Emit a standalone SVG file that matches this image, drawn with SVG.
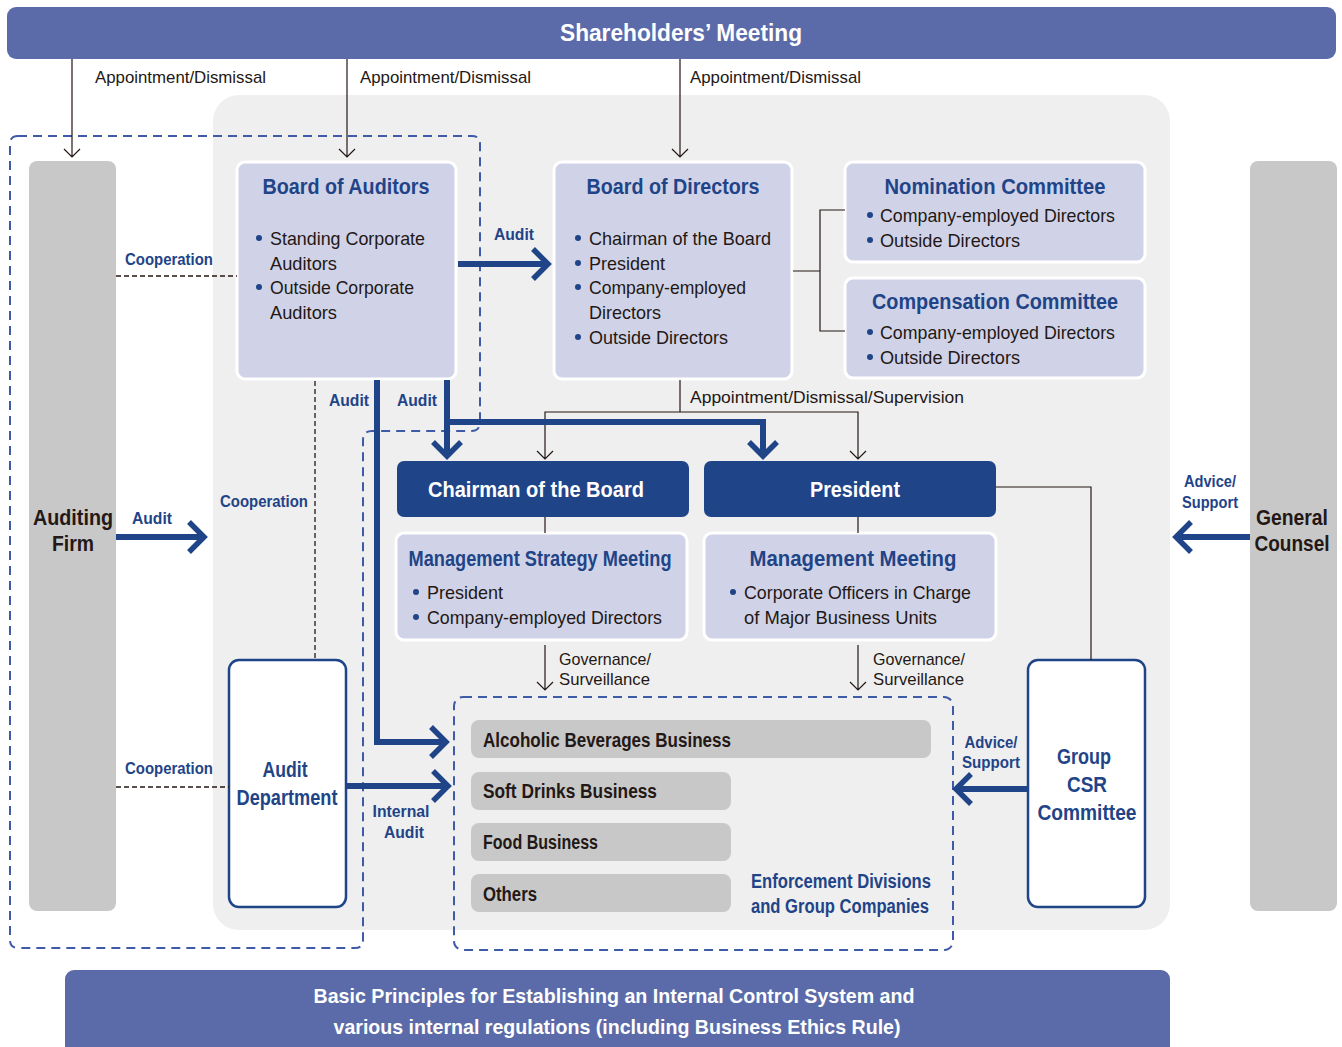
<svg xmlns="http://www.w3.org/2000/svg" width="1342" height="1047" viewBox="0 0 1342 1047">
<defs>
<style>
text{font-family:"Liberation Sans",Arial,sans-serif;}
.band{fill:#5b6ba9;}
.bandt{fill:#fff;font-weight:bold;font-size:24px;text-anchor:middle;}
.bandt2{fill:#fff;font-weight:bold;font-size:21px;text-anchor:middle;}
.bar{fill:#c8c8c8;}
.bart{fill:#231815;font-weight:bold;font-size:22px;text-anchor:middle;}
.box{fill:#d0d3e8;stroke:#fff;stroke-width:3;}
.title{fill:#1f4487;font-weight:bold;font-size:22px;text-anchor:middle;}
.item{fill:#231815;font-size:19px;}
.dot{fill:#1f4487;}
.dark{fill:#1f4487;}
.darkt{fill:#fff;font-weight:bold;font-size:22px;text-anchor:middle;}
.wbox{fill:#fff;stroke:#1f4487;stroke-width:2.5;}
.wt{fill:#1f4487;font-weight:bold;font-size:22px;text-anchor:middle;}
.lbl{fill:#231815;font-size:17px;}
.blbl{fill:#1f4487;font-weight:bold;font-size:17px;}
.blblc{fill:#1f4487;font-weight:bold;font-size:17px;text-anchor:middle;}
.thin{fill:none;stroke:#231815;stroke-width:1.2;}
.thick{fill:none;stroke:#1f4487;stroke-width:6;stroke-linejoin:miter;}
.head{fill:none;stroke:#1f4487;stroke-width:5.5;stroke-linejoin:miter;stroke-miterlimit:10;}
.dash{fill:none;stroke:#231815;stroke-width:1.3;stroke-dasharray:5 3;}
.bdash{fill:none;stroke:#3f5aa6;stroke-width:2;stroke-dasharray:9 6;}
.biz{fill:#c8c8c8;}
.bizt{fill:#231815;font-weight:bold;font-size:19.5px;}
.ent{fill:#1f4487;font-weight:bold;font-size:19.5px;}
</style>
</defs>

<rect x="213" y="95" width="957" height="835" rx="26" fill="#efefef"/>

<g id="dashed-groups">
<path class="bdash" d="M18,136 H472 Q480,136 480,144 V422 Q480,431 471,431 H372 Q363,431 363,440 V940 Q363,948 355,948 H18 Q10,948 10,940 V144 Q10,136 18,136 Z"/>
<rect class="bdash" x="454" y="697" width="499" height="253" rx="9"/>
</g>

<g id="shareholders">
<rect class="band" x="7" y="7" width="1329" height="52" rx="9"/>
<text class="bandt" x="681" y="41" textLength="242" lengthAdjust="spacingAndGlyphs">Shareholders’ Meeting</text>
</g>

<g id="principles">
<rect class="band" x="65" y="970" width="1105" height="90" rx="9"/>
<text class="bandt2" x="614" y="1003" textLength="601" lengthAdjust="spacingAndGlyphs">Basic Principles for Establishing an Internal Control System and</text>
<text class="bandt2" x="617" y="1034" textLength="567" lengthAdjust="spacingAndGlyphs">various internal regulations (including Business Ethics Rule)</text>
</g>

<g id="auditing-firm">
<rect class="bar" x="29" y="161" width="87" height="750" rx="8"/>
<text class="bart" x="73" y="525" textLength="80" lengthAdjust="spacingAndGlyphs">Auditing</text>
<text class="bart" x="73" y="551" textLength="42" lengthAdjust="spacingAndGlyphs">Firm</text>
</g>

<g id="general-counsel">
<rect class="bar" x="1250" y="161" width="87" height="750" rx="8"/>
<text class="bart" x="1292" y="525" textLength="72" lengthAdjust="spacingAndGlyphs">General</text>
<text class="bart" x="1292" y="551" textLength="75" lengthAdjust="spacingAndGlyphs">Counsel</text>
</g>

<g id="board-of-auditors">
<rect class="box" x="237" y="162" width="219" height="217" rx="8"/>
<text class="title" x="346" y="194" textLength="167" lengthAdjust="spacingAndGlyphs">Board of Auditors</text>
<circle class="dot" cx="259" cy="238" r="3"/>
<text class="item" x="270" y="245" textLength="155" lengthAdjust="spacingAndGlyphs">Standing Corporate</text>
<text class="item" x="270" y="270" textLength="67" lengthAdjust="spacingAndGlyphs">Auditors</text>
<circle class="dot" cx="259" cy="287" r="3"/>
<text class="item" x="270" y="294" textLength="144" lengthAdjust="spacingAndGlyphs">Outside Corporate</text>
<text class="item" x="270" y="319" textLength="67" lengthAdjust="spacingAndGlyphs">Auditors</text>
</g>

<g id="board-of-directors">
<rect class="box" x="554" y="162" width="238" height="217" rx="8"/>
<text class="title" x="673" y="194" textLength="173" lengthAdjust="spacingAndGlyphs">Board of Directors</text>
<circle class="dot" cx="578" cy="238" r="3"/>
<text class="item" x="589" y="245" textLength="182" lengthAdjust="spacingAndGlyphs">Chairman of the Board</text>
<circle class="dot" cx="578" cy="263" r="3"/>
<text class="item" x="589" y="270" textLength="76" lengthAdjust="spacingAndGlyphs">President</text>
<circle class="dot" cx="578" cy="287" r="3"/>
<text class="item" x="589" y="294" textLength="157" lengthAdjust="spacingAndGlyphs">Company-employed</text>
<text class="item" x="589" y="319" textLength="72" lengthAdjust="spacingAndGlyphs">Directors</text>
<circle class="dot" cx="578" cy="337" r="3"/>
<text class="item" x="589" y="344" textLength="139" lengthAdjust="spacingAndGlyphs">Outside Directors</text>
</g>

<g id="nomination-committee">
<rect class="box" x="845" y="162" width="300" height="100" rx="8"/>
<text class="title" x="995" y="194" textLength="221" lengthAdjust="spacingAndGlyphs">Nomination Committee</text>
<circle class="dot" cx="870" cy="215" r="3"/>
<text class="item" x="880" y="222" textLength="235" lengthAdjust="spacingAndGlyphs">Company-employed Directors</text>
<circle class="dot" cx="870" cy="240" r="3"/>
<text class="item" x="880" y="247" textLength="140" lengthAdjust="spacingAndGlyphs">Outside Directors</text>
</g>

<g id="compensation-committee">
<rect class="box" x="845" y="278" width="300" height="100" rx="8"/>
<text class="title" x="995" y="309" textLength="246" lengthAdjust="spacingAndGlyphs">Compensation Committee</text>
<circle class="dot" cx="870" cy="332" r="3"/>
<text class="item" x="880" y="339" textLength="235" lengthAdjust="spacingAndGlyphs">Company-employed Directors</text>
<circle class="dot" cx="870" cy="357" r="3"/>
<text class="item" x="880" y="364" textLength="140" lengthAdjust="spacingAndGlyphs">Outside Directors</text>
</g>

<g id="chairman">
<rect class="dark" x="397" y="461" width="292" height="56" rx="7"/>
<text class="darkt" x="536" y="497" textLength="216" lengthAdjust="spacingAndGlyphs">Chairman of the Board</text>
</g>

<g id="president">
<rect class="dark" x="704" y="461" width="292" height="56" rx="7"/>
<text class="darkt" x="855" y="497" textLength="90" lengthAdjust="spacingAndGlyphs">President</text>
</g>

<g id="management-strategy-meeting">
<rect class="box" x="396" y="533" width="291" height="107" rx="8"/>
<text class="title" x="540" y="566" textLength="263" lengthAdjust="spacingAndGlyphs">Management Strategy Meeting</text>
<circle class="dot" cx="416" cy="592" r="3"/>
<text class="item" x="427" y="599" textLength="76" lengthAdjust="spacingAndGlyphs">President</text>
<circle class="dot" cx="416" cy="617" r="3"/>
<text class="item" x="427" y="624" textLength="235" lengthAdjust="spacingAndGlyphs">Company-employed Directors</text>
</g>

<g id="management-meeting">
<rect class="box" x="704" y="533" width="292" height="107" rx="8"/>
<text class="title" x="853" y="566" textLength="207" lengthAdjust="spacingAndGlyphs">Management Meeting</text>
<circle class="dot" cx="733" cy="592" r="3"/>
<text class="item" x="744" y="599" textLength="227" lengthAdjust="spacingAndGlyphs">Corporate Officers in Charge</text>
<text class="item" x="744" y="624" textLength="193" lengthAdjust="spacingAndGlyphs">of Major Business Units</text>
</g>

<g id="audit-department">
<rect class="wbox" x="229" y="660" width="117" height="247" rx="10"/>
<text class="wt" x="285" y="777" textLength="45" lengthAdjust="spacingAndGlyphs">Audit</text>
<text class="wt" x="287" y="805" textLength="101" lengthAdjust="spacingAndGlyphs">Department</text>
</g>

<g id="group-csr-committee">
<rect class="wbox" x="1028" y="660" width="117" height="247" rx="10"/>
<text class="wt" x="1084" y="764" textLength="54" lengthAdjust="spacingAndGlyphs">Group</text>
<text class="wt" x="1087" y="792" textLength="40" lengthAdjust="spacingAndGlyphs">CSR</text>
<text class="wt" x="1087" y="820" textLength="99" lengthAdjust="spacingAndGlyphs">Committee</text>
</g>

<g id="enforcement">
<rect class="biz" x="471" y="720" width="460" height="38" rx="8"/>
<text class="bizt" x="483" y="747" textLength="248" lengthAdjust="spacingAndGlyphs">Alcoholic Beverages Business</text>
<rect class="biz" x="471" y="772" width="260" height="38" rx="8"/>
<text class="bizt" x="483" y="798" textLength="174" lengthAdjust="spacingAndGlyphs">Soft Drinks Business</text>
<rect class="biz" x="471" y="823" width="260" height="38" rx="8"/>
<text class="bizt" x="483" y="849" textLength="115" lengthAdjust="spacingAndGlyphs">Food Business</text>
<rect class="biz" x="471" y="874" width="260" height="38" rx="8"/>
<text class="bizt" x="483" y="901" textLength="54" lengthAdjust="spacingAndGlyphs">Others</text>
<text class="ent" x="751" y="888" textLength="180" lengthAdjust="spacingAndGlyphs">Enforcement Divisions</text>
<text class="ent" x="751" y="913" textLength="178" lengthAdjust="spacingAndGlyphs">and Group Companies</text>
</g>

<g id="connectors">
<path class="thin" d="M72,59 V157 M64,149 L72,157 L80,149"/>
<path class="thin" d="M347,59 V157 M339,149 L347,157 L355,149"/>
<path class="thin" d="M680,59 V157 M672,149 L680,157 L688,149"/>
<text class="lbl" x="95" y="83" textLength="171" lengthAdjust="spacingAndGlyphs">Appointment/Dismissal</text>
<text class="lbl" x="360" y="83" textLength="171" lengthAdjust="spacingAndGlyphs">Appointment/Dismissal</text>
<text class="lbl" x="690" y="83" textLength="171" lengthAdjust="spacingAndGlyphs">Appointment/Dismissal</text>

<path class="thin" d="M793,271 H820 M845,210 H820 V331 H845"/>

<path class="thin" d="M680,380 V412 M545,459 V412 H858 V459 M537,451 L545,459 L553,451 M850,451 L858,459 L866,451"/>
<text class="lbl" x="690" y="403" textLength="274" lengthAdjust="spacingAndGlyphs">Appointment/Dismissal/Supervision</text>

<path class="thin" d="M545,517 V533 M858,517 V533"/>

<path class="thin" d="M545,645 V690 M537,682 L545,690 L553,682"/>
<path class="thin" d="M858,645 V690 M850,682 L858,690 L866,682"/>
<text class="lbl" x="559" y="665" textLength="92" lengthAdjust="spacingAndGlyphs">Governance/</text>
<text class="lbl" x="559" y="685" textLength="91" lengthAdjust="spacingAndGlyphs">Surveillance</text>
<text class="lbl" x="873" y="665" textLength="92" lengthAdjust="spacingAndGlyphs">Governance/</text>
<text class="lbl" x="873" y="685" textLength="91" lengthAdjust="spacingAndGlyphs">Surveillance</text>

<path class="thin" d="M996,487 H1091 V660"/>

<path class="dash" d="M116,276 H237"/>
<path class="dash" d="M116,787 H229"/>
<path class="dash" d="M315,381 V660"/>
<text class="blbl" x="125" y="265" textLength="88" lengthAdjust="spacingAndGlyphs">Cooperation</text>
<text class="blbl" x="125" y="774" textLength="88" lengthAdjust="spacingAndGlyphs">Cooperation</text>
<text class="blbl" x="220" y="507" textLength="88" lengthAdjust="spacingAndGlyphs">Cooperation</text>

<path class="thick" d="M458,264 H546"/>
<path class="head" d="M533,249 L548,264 L533,279"/>
<text class="blbl" x="494" y="240" textLength="40" lengthAdjust="spacingAndGlyphs">Audit</text>

<path class="thick" d="M377,380 V742 H444"/>
<path class="head" d="M431,727 L446,742 L431,757"/>
<text class="blbl" x="329" y="406" textLength="40" lengthAdjust="spacingAndGlyphs">Audit</text>

<path class="thick" d="M447,380 V455 M447,422 H763 V455"/>
<path class="head" d="M433,442 L447,456 L461,442"/>
<path class="head" d="M749,442 L763,456 L777,442"/>
<text class="blbl" x="397" y="406" textLength="40" lengthAdjust="spacingAndGlyphs">Audit</text>

<path class="thick" d="M116,537 H202"/>
<path class="head" d="M189,522 L204,537 L189,552"/>
<text class="blbl" x="132" y="524" textLength="40" lengthAdjust="spacingAndGlyphs">Audit</text>

<path class="thick" d="M346,786 H446"/>
<path class="head" d="M433,771 L448,786 L433,801"/>
<text class="blblc" x="401" y="817" textLength="57" lengthAdjust="spacingAndGlyphs">Internal</text>
<text class="blblc" x="404" y="838" textLength="40" lengthAdjust="spacingAndGlyphs">Audit</text>

<path class="thick" d="M1250,537 H1178"/>
<path class="head" d="M1191,522 L1176,537 L1191,552"/>
<text class="blblc" x="1210" y="487" textLength="52" lengthAdjust="spacingAndGlyphs">Advice/</text>
<text class="blblc" x="1210" y="508" textLength="56" lengthAdjust="spacingAndGlyphs">Support</text>

<path class="thick" d="M1028,789 H958"/>
<path class="head" d="M971,774 L956,789 L971,804"/>
<text class="blblc" x="991" y="748" textLength="53" lengthAdjust="spacingAndGlyphs">Advice/</text>
<text class="blblc" x="991" y="768" textLength="58" lengthAdjust="spacingAndGlyphs">Support</text>
</g>
</svg>
